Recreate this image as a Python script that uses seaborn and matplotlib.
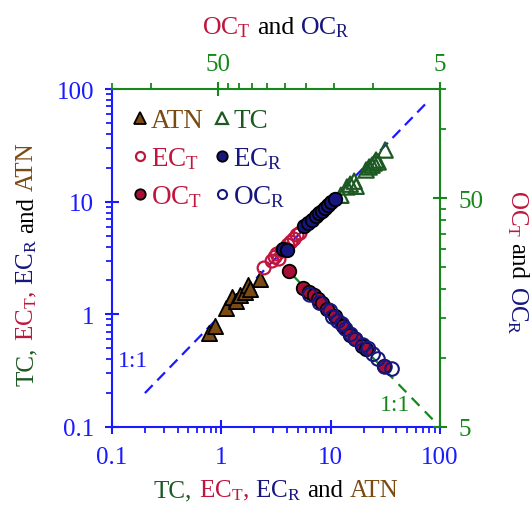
import numpy as np
import pandas as pd
import seaborn as sns
import matplotlib
matplotlib.use("Agg")
import matplotlib.pyplot as plt
from matplotlib.lines import Line2D
from matplotlib.transforms import IdentityTransform
from matplotlib.ticker import FixedLocator, NullFormatter, FuncFormatter

# ---------------- data ----------------
atn_x = [0.77, 0.875, 1.10, 1.25, 1.36, 1.48, 1.65, 1.75, 1.83, 2.26]
atn_y = [0.68, 0.79, 1.14, 1.42, 1.31, 1.48, 1.58, 1.82, 1.68, 2.06]

tc_x = [12.4, 14.1, 15.1, 16.4, 17.1, 21.1, 22.5, 23.9, 25.0, 26.0, 27.2, 31.5]
tc_y = [11.4, 13.5, 14.3, 15.2, 13.7, 19.1, 20.3, 21.1, 22.0, 23.4, 22.5, 28.7]

ect_x = [2.46, 2.91, 3.10, 3.23, 3.37, 3.59, 3.83, 4.07, 4.34, 4.63, 4.93, 5.25]
ect_y = [2.58, 2.97, 3.22, 3.43, 3.09, 3.65, 3.80, 4.12, 4.38, 4.66, 5.05, 5.26]

ecr_x = [3.67, 3.99, 5.71, 6.21, 6.76, 7.35, 7.83, 8.34, 8.89, 9.46, 10.1, 11.0]
ecr_y = [3.80, 3.72, 6.08, 6.46, 6.87, 7.45, 7.92, 8.26, 8.78, 9.33, 9.91, 10.5]

oct_x = [23.9, 20.7, 19.5, 18.5, 17.7, 17.0, 16.1, 14.9, 13.7, 12.7, 12.1, 11.2, 10.8, 8.93]
oct_y = [24.0, 20.3, 19.5, 18.9, 18.1, 17.4, 16.4, 15.3, 13.8, 12.6, 12.1, 11.3, 11.0, 9.24]

ocr_x = [19.3, 17.4, 15.6, 15.2, 14.4, 13.8, 13.3, 12.6, 12.0, 11.1, 10.5, 10.0, 9.51, 8.85, 8.22]
ocr_y = [18.9, 17.4, 16.1, 15.1, 14.5, 14.1, 13.4, 12.7, 12.1, 11.4, 11.0, 10.4, 9.91, 9.15, 8.96]

line_main = [0.2, 75]      # 1:1 line, bottom/left axes
line_oc = [5.4, 24]        # 1:1 line, top/right axes

main_ticks = [0.1, 1, 10, 100]
oc_major = [5, 50]
oc_minor = [10, 15, 20, 25, 30, 35, 40, 45, 100, 150]

# ---------------- style ----------------
sns.set_style("ticks")
plt.rcParams["font.family"] = ["Liberation Serif", "DejaVu Serif"]
plt.rcParams["mathtext.fontset"] = "custom"
plt.rcParams["mathtext.rm"] = "Liberation Serif"
plt.rcParams["mathtext.it"] = "Liberation Serif:italic"

BLUE = "#1a1aff"
GREEN = "#16881a"
DKGREEN = "#1d5a22"
CRIMSON = "#c0163e"
DKRED = "#a80f35"
NAVY = "#16167e"
BROWN = "#7a4a12"

W, H = 531, 506
fig = plt.figure(figsize=(W / 100, H / 100), dpi=100)
L, R, T, B = 112, 440, 90, 428
pos = [L / W, 1 - B / H, (R - L) / W, (B - T) / H]
ax = fig.add_axes(pos)
ax2 = fig.add_axes(pos, frameon=False)

TICK_FS = 18

# ---------------- main axes ----------------
ax.set_xscale("log")
ax.set_yscale("log")
ax.set_xlim(0.1, 100)
ax.set_ylim(0.1, 100)
ax.plot(line_main, line_main, ls=(0, (5, 3)), color=BLUE, lw=1.6, zorder=1)

sns.scatterplot(x=atn_x, y=atn_y, ax=ax, marker="^", s=120, color=BROWN,
                edgecolor="black", linewidth=1.3, zorder=3)
sns.scatterplot(x=ect_x, y=ect_y, ax=ax, marker="o", s=85, facecolor="none",
                edgecolor=CRIMSON, linewidth=1.6, zorder=3)
sns.scatterplot(x=ecr_x, y=ecr_y, ax=ax, marker="o", s=95, color=NAVY,
                edgecolor="black", linewidth=1.3, zorder=4)
sns.scatterplot(x=tc_x, y=tc_y, ax=ax, marker="^", s=120, facecolor="none",
                edgecolor=DKGREEN, linewidth=1.6, zorder=3)

for axis in (ax.xaxis, ax.yaxis):
    axis.set_major_locator(FixedLocator(main_ticks))
    axis.set_major_formatter(FuncFormatter(lambda v, p: f"{v:g}"))
    axis.set_minor_formatter(NullFormatter())
ax.tick_params(which="major", direction="inout", length=10, width=1.5,
               color=BLUE, labelcolor=BLUE, labelsize=TICK_FS, top=False, right=False)
ax.tick_params(which="minor", direction="out", length=4.5, width=1.3,
               color=BLUE, top=False, right=False)
ax.tick_params(axis="x", which="major", pad=9)
ax.tick_params(axis="y", which="major", pad=8)
for s in ("left", "bottom"):
    ax.spines[s].set_color(BLUE)
    ax.spines[s].set_linewidth(1.5)
for s in ("top", "right"):
    ax.spines[s].set_color(GREEN)
    ax.spines[s].set_linewidth(1.5)
    ax.spines[s].set_visible(True)

# ---------------- OC axes (top / right) ----------------
ax2.set_xscale("log")
ax2.set_yscale("log")
ax2.set_xlim(150, 5)
ax2.set_ylim(5, 150)
ax2.plot(line_oc, line_oc, ls=(0, (5, 3.5)), color=GREEN, lw=1.6, zorder=1)
sns.scatterplot(x=oct_x, y=oct_y, ax=ax2, marker="o", s=95, color=DKRED,
                edgecolor="black", linewidth=1.3, zorder=3)
sns.scatterplot(x=ocr_x, y=ocr_y, ax=ax2, marker="o", s=95, facecolor="none",
                edgecolor=NAVY, linewidth=1.5, zorder=4)
ax2.xaxis.tick_top()
ax2.yaxis.tick_right()
for axis in (ax2.xaxis, ax2.yaxis):
    axis.set_major_locator(FixedLocator(oc_major))
    axis.set_minor_locator(FixedLocator(oc_minor))
    axis.set_major_formatter(FuncFormatter(lambda v, p: f"{v:g}"))
    axis.set_minor_formatter(NullFormatter())
ax2.tick_params(which="major", direction="inout", length=10, width=1.5,
                color=GREEN, labelcolor=GREEN, labelsize=TICK_FS,
                top=True, right=True, bottom=False, left=False)
ax2.tick_params(which="minor", direction="out", length=4.5, width=1.3,
                color=GREEN, top=True, right=True, bottom=False, left=False)
ax2.tick_params(axis="x", which="major", pad=5)
ax2.tick_params(axis="y", which="major", pad=8)

# ---------------- legend ----------------
def h(marker, fc, ec, ms, mew):
    return Line2D([], [], ls="none", marker=marker, markerfacecolor=fc,
                  markeredgecolor=ec, markersize=ms, markeredgewidth=mew)

handles = [h("^", BROWN, "black", 8.5, 1.3),
           h("o", "none", CRIMSON, 6.5, 1.6),
           h("o", DKRED, "black", 7.5, 1.3),
           h("^", "none", DKGREEN, 8.5, 1.6),
           h("o", NAVY, "black", 7.5, 1.3),
           h("o", "none", NAVY, 6.5, 1.5)]
labels = ["ATN", r"EC$_\mathrm{T}$", r"OC$_\mathrm{T}$",
          "TC", r"EC$_\mathrm{R}$", r"OC$_\mathrm{R}$"]
lab_colors = [BROWN, CRIMSON, CRIMSON, DKGREEN, NAVY, NAVY]
leg = ax2.legend(handles, labels, ncol=2, loc="upper left",
                 bbox_to_anchor=(-0.01, 1.015), frameon=False, fontsize=19.5,
                 handlelength=0.5, handletextpad=0.15, columnspacing=0.45,
                 labelspacing=0.45, borderaxespad=0.5)
for t, c in zip(leg.get_texts(), lab_colors):
    t.set_color(c)

# ---------------- 1:1 labels ----------------
ax.text(0.064, 0.198, "1:1", transform=ax.transAxes, color=BLUE, fontsize=17,
        ha="center", va="center")
ax.text(0.863, 0.068, "1:1", transform=ax.transAxes, color=GREEN, fontsize=17,
        ha="center", va="center")

# ---------------- multi-colored axis titles ----------------
renderer = fig.canvas.get_renderer()


def multicolor(parts, center, base, rotation, size):
    gap = 0.25 * size * 100 / 72
    objs, lens = [], []
    for s, c in parts:
        t = fig.text(0, 0, s, color=c, fontsize=size, rotation=rotation,
                     rotation_mode="anchor", ha="left", va="baseline",
                     transform=IdentityTransform())
        bb = t.get_window_extent(renderer)
        objs.append(t)
        lens.append(bb.width if rotation == 0 else bb.height)
    total = sum(lens) + gap * (len(parts) - 1)
    if rotation == 0:
        x = center - total / 2
        for t, l in zip(objs, lens):
            t.set_position((x, H - base))
            x += l + gap
    elif rotation == 90:
        y = (H - center) - total / 2
        for t, l in zip(objs, lens):
            t.set_position((base, y))
            y += l + gap
    else:
        y = (H - center) + total / 2
        for t, l in zip(objs, lens):
            t.set_position((base, y))
            y -= l + gap


ec_parts = [("TC,", DKGREEN), (r"EC$_\mathrm{T}$,", CRIMSON),
            (r"EC$_\mathrm{R}$", NAVY), ("and", "black"), ("ATN", BROWN)]
oc_parts = [(r"OC$_\mathrm{T}$", CRIMSON), ("and", "black"),
            (r"OC$_\mathrm{R}$", NAVY)]

multicolor(ec_parts, 276, 497, 0, 18)
multicolor(ec_parts, 264, 33, 90, 18)
multicolor(oc_parts, 276, 34, 0, 18.5)
multicolor(oc_parts, 262, 511, 270, 18)

fig.savefig("out.png", dpi=100)
